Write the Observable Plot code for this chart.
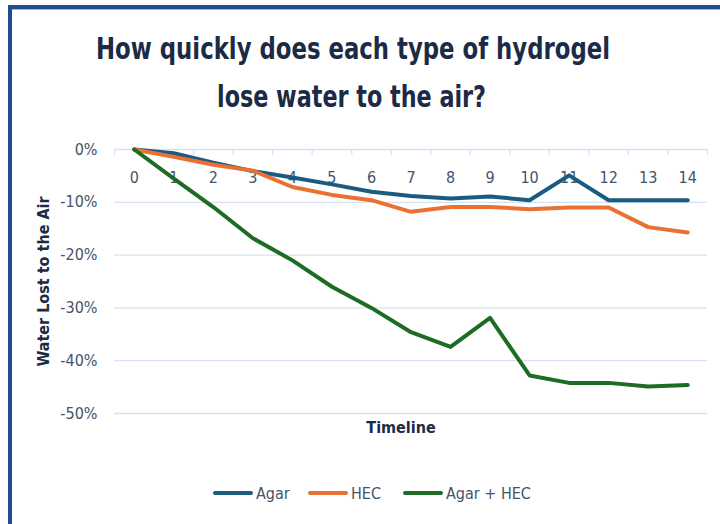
<!DOCTYPE html>
<html>
<head>
<meta charset="utf-8">
<script src="https://cdn.jsdelivr.net/npm/d3@7"></script>
<script src="https://cdn.jsdelivr.net/npm/@observablehq/plot@0.6"></script>
<style>
  html, body { margin: 0; padding: 0; background: #fff; }
  #wrap { position: relative; width: 720px; height: 524px; overflow: hidden; background: #fff;
    font-family: "Liberation Sans Narrow", "DejaVu Sans Condensed", "Roboto Condensed", Roboto, sans-serif; font-stretch: condensed; }
  .bar-top { position: absolute; left: 8px; top: 5px; width: 712px; height: 4px; background: #1f4e8c; border-bottom: 1px solid #9fb4dc; }
  .bar-left { position: absolute; left: 8px; top: 5px; width: 4px; height: 519px; background: #1f4e8c; }
  #title { position: absolute; left: 0; top: 0; }
  #chart { position: absolute; left: 0; top: 130px; }
  .leg { position: absolute; top: 482px; height: 22px; display: flex; align-items: center; font-size: 16px; color: #44546a; }
  .leg i { display: inline-block; width: 40px; height: 4px; border-radius: 2px; margin-right: 3px; }
</style>
</head>
<body>
<div id="wrap">
  <div class="bar-top"></div>
  <div class="bar-left"></div>
  <svg id="title" width="720" height="130" font-family="'Liberation Sans Narrow', 'DejaVu Sans Condensed', 'Roboto Condensed', Roboto, sans-serif" font-weight="bold" font-size="30" fill="#1c2b45">
    <text x="353" y="59" text-anchor="middle" textLength="514" lengthAdjust="spacingAndGlyphs">How quickly does each type of hydrogel</text>
    <text x="351.5" y="107" text-anchor="middle" textLength="269" lengthAdjust="spacingAndGlyphs">lose water to the air?</text>
  </svg>
  <div id="chart"></div>
  <div id="legend"></div>
</div>
<script>
// Data (percent of water lost; negative = lost)
const timeline = [0, 1, 2, 3, 4, 5, 6, 7, 8, 9, 10, 11, 12, 13, 14];
const agar    = [0, -0.7, -2.5, -4.1, -5.3, -6.6, -8.0, -8.8, -9.3, -8.9, -9.6, -4.9, -9.6, -9.6, -9.6];
const hec     = [0, -1.4, -2.9, -4.0, -7.1, -8.6, -9.6, -11.8, -10.9, -10.9, -11.3, -11.0, -11.0, -14.7, -15.7];
const agarHec = [0, -5.5, -10.9, -16.8, -21.0, -26.0, -30.0, -34.6, -37.4, -31.9, -42.8, -44.2, -44.2, -44.9, -44.6];
const seriesNames = ["Agar", "HEC", "Agar + HEC"];
const yTicks = [0, -10, -20, -30, -40, -50];

const colors = {"Agar": "#1b5b80", "HEC": "#e97132", "Agar + HEC": "#1e6b24"};
const seriesValues = [agar, hec, agarHec];
const rows = seriesNames.flatMap((name, si) =>
  timeline.map((t, i) => ({series: name, t, v: seriesValues[si][i]})));
const bounds = d3.range(timeline.length + 1).map(i => i - 0.5);

const fontFam = "'Liberation Sans Narrow', 'DejaVu Sans Condensed', 'Roboto Condensed', Roboto, sans-serif";
const gridColor = "#d5e1f2";
const textColor = "#44546a";
const titleColor = "#1c2b45";

const chart = Plot.plot({
  width: 720,
  height: 320,
  marginLeft: 114,
  marginRight: 13,
  marginTop: 19,
  marginBottom: 37,
  style: {fontFamily: fontFam, fontSize: "16px", color: textColor, background: "transparent"},
  x: {type: "linear", domain: [-0.5, timeline.length - 0.5], axis: null},
  y: {domain: [-50, 0], axis: null},
  color: {domain: seriesNames, range: seriesNames.map(n => colors[n])},
  marks: [
    Plot.ruleY(yTicks, {y: d => d, stroke: gridColor, strokeWidth: 1.3}),
    Plot.ruleX(bounds, {x: d => d, y1: 0, y2: 0, insetBottom: -6, stroke: gridColor, strokeWidth: 1.3}),
    Plot.axisY({ticks: yTicks, tickSize: 0, tickPadding: 17, label: null, tickFormat: d => d + "%", fill: textColor, fontSize: 16}),
    Plot.text(timeline, {x: d => d, y: 0, dy: 28, text: d => String(d), fill: textColor, fontSize: 16}),
    Plot.line(rows, {x: "t", y: "v", z: "series", stroke: "series", strokeWidth: 4, strokeLinejoin: "round", strokeLinecap: "round"}),
    Plot.text(["Water Lost to the Air"], {frameAnchor: "left", dx: -71, rotate: -90, textAnchor: "middle", fill: titleColor, fontWeight: "bold", fontSize: 16}),
    Plot.text(["Timeline"], {frameAnchor: "bottom", dy: 19, dx: -10, textAnchor: "middle", fill: titleColor, fontWeight: "bold", fontSize: 16})
  ]
});
document.getElementById("chart").appendChild(chart);

const legendLeft = [213, 308, 403];
const legend = document.getElementById("legend");
seriesNames.forEach((name, i) => {
  const d = document.createElement("div");
  d.className = "leg";
  d.style.left = legendLeft[i] + "px";
  const sw = document.createElement("i");
  sw.style.background = colors[name];
  d.appendChild(sw);
  d.appendChild(document.createTextNode(name));
  legend.appendChild(d);
});
</script>
</body>
</html>
